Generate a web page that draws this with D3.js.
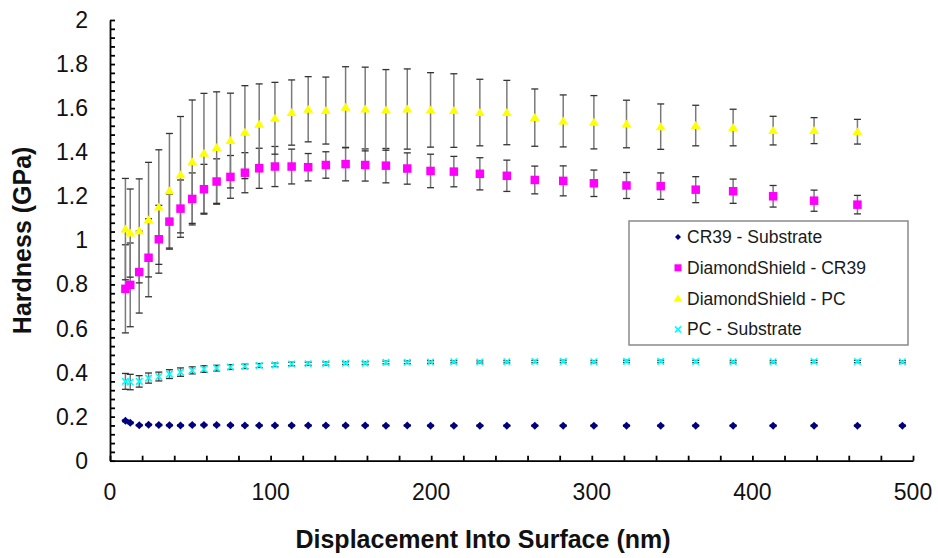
<!DOCTYPE html>
<html>
<head>
<meta charset="utf-8">
<script src="https://cdn.jsdelivr.net/npm/d3@7"></script>
<style>
  body { margin: 0; background: #fff; }
  text { font-family: Arial, "Liberation Sans", sans-serif; }
</style>
</head>
<body>
<svg id="chart" width="938" height="558"></svg>
<script>
// displacement (nm) of the coated samples
var dsDepth = [9.6, 12.6, 18.2, 24.0, 30.4, 37.0, 43.9, 51.2, 58.5, 66.4, 75.0, 84.0, 92.9, 102.7, 113.1,
  123.4, 134.4, 146.7, 158.9, 171.8, 185.1, 199.6, 214.1, 230.3, 247.1, 264.5, 282.2, 301.3, 321.6,
  342.9, 364.7, 388.0, 412.9, 438.4, 465.4];
// substrates have one more point at the end
var subDepth = dsDepth.concat([493.4]);

var cr39Sub = [0.181, 0.172, 0.161, 0.163, 0.162, 0.161, 0.160, 0.162, 0.162, 0.162, 0.161, 0.160, 0.160,
  0.160, 0.160, 0.160, 0.160, 0.160, 0.160, 0.159, 0.160, 0.159, 0.159, 0.159, 0.159, 0.159, 0.159,
  0.159, 0.159, 0.159, 0.159, 0.159, 0.159, 0.159, 0.159, 0.159];
var cr39SubErr = [0.004, 0.004, 0.003, 0.003, 0.003, 0.003, 0.003, 0.003, 0.003, 0.003, 0.003, 0.003, 0.003,
  0.003, 0.003, 0.003, 0.003, 0.003, 0.003, 0.003, 0.003, 0.003, 0.003, 0.003, 0.003, 0.003, 0.003,
  0.003, 0.003, 0.003, 0.003, 0.003, 0.003, 0.003, 0.003, 0.003];

var dsCr39 = [0.780, 0.798, 0.856, 0.921, 1.005, 1.085, 1.144, 1.188, 1.232, 1.267, 1.288, 1.307, 1.327,
  1.335, 1.335, 1.332, 1.342, 1.346, 1.342, 1.339, 1.326, 1.315, 1.312, 1.302, 1.293, 1.274, 1.270,
  1.259, 1.249, 1.246, 1.230, 1.223, 1.200, 1.180, 1.162];
var dsCr39Err = [0.200, 0.190, 0.186, 0.177, 0.154, 0.125, 0.130, 0.118, 0.113, 0.103, 0.097, 0.091, 0.091,
  0.091, 0.079, 0.062, 0.060, 0.076, 0.073, 0.078, 0.071, 0.076, 0.069, 0.073, 0.071, 0.063, 0.068,
  0.060, 0.059, 0.060, 0.059, 0.055, 0.049, 0.048, 0.042];

var dsPc = [1.051, 1.033, 1.043, 1.094, 1.151, 1.225, 1.298, 1.357, 1.395, 1.421, 1.453, 1.491, 1.527,
  1.554, 1.580, 1.595, 1.589, 1.604, 1.596, 1.592, 1.596, 1.592, 1.589, 1.580, 1.580, 1.557, 1.542,
  1.536, 1.528, 1.516, 1.521, 1.512, 1.498, 1.498, 1.493];
var dsPcErr = [0.230, 0.200, 0.236, 0.260, 0.260, 0.260, 0.264, 0.280, 0.272, 0.253, 0.215, 0.211, 0.183,
  0.163, 0.148, 0.148, 0.152, 0.184, 0.190, 0.183, 0.182, 0.169, 0.167, 0.151, 0.146, 0.130, 0.118,
  0.121, 0.108, 0.103, 0.092, 0.083, 0.065, 0.059, 0.056];

var pcSub = [0.360, 0.357, 0.360, 0.375, 0.382, 0.393, 0.402, 0.410, 0.416, 0.420, 0.425, 0.428, 0.432,
  0.435, 0.439, 0.440, 0.441, 0.443, 0.443, 0.446, 0.447, 0.448, 0.449, 0.448, 0.449, 0.450, 0.451,
  0.449, 0.451, 0.451, 0.450, 0.449, 0.449, 0.450, 0.450, 0.449];
var pcSubErr = [0.036, 0.035, 0.026, 0.023, 0.020, 0.020, 0.019, 0.016, 0.015, 0.013, 0.011, 0.010, 0.009,
  0.008, 0.008, 0.007, 0.007, 0.006, 0.006, 0.006, 0.006, 0.006, 0.005, 0.005, 0.005, 0.005, 0.005,
  0.005, 0.005, 0.005, 0.005, 0.005, 0.005, 0.005, 0.005, 0.005];

var seriesNames = ['CR39 - Substrate', 'DiamondShield - CR39', 'DiamondShield - PC', 'PC - Substrate'];
var yTicks = [0, 0.2, 0.4, 0.6, 0.8, 1, 1.2, 1.4, 1.6, 1.8, 2];
var xTicks = [0, 100, 200, 300, 400, 500];

var svg = d3.select('#chart');

var plotLeft = 110, plotRight = 913, plotTop = 20, plotBottom = 460.7;

var x = d3.scaleLinear().domain([0, 500]).range([plotLeft, plotRight]);
var y = d3.scaleLinear().domain([0, 2]).range([plotBottom, plotTop]);

function pack(depth, vals, errs) {
  return vals.map(function(v, i) { return { x: depth[i], y: v, e: errs[i] }; });
}

var series = [
  { name: seriesNames[0], data: pack(subDepth, cr39Sub, cr39SubErr), color: '#000080', shape: 'diamond' },
  { name: seriesNames[1], data: pack(dsDepth, dsCr39, dsCr39Err), color: '#ff00ff', shape: 'square' },
  { name: seriesNames[2], data: pack(dsDepth, dsPc, dsPcErr), color: '#ffff00', shape: 'triangle' },
  { name: seriesNames[3], data: pack(subDepth, pcSub, pcSubErr), color: '#00ffff', shape: 'cross' }
];

// axes (ticks point inward, minor ticks everywhere)
var yAxis = d3.axisRight(y)
  .tickValues(d3.range(0, 2.0001, 0.04))
  .tickSize(5)
  .tickSizeOuter(0)
  .tickFormat('');
var xAxis = d3.axisTop(x)
  .tickValues(d3.range(0, 500.1, 20))
  .tickSize(5)
  .tickSizeOuter(0)
  .tickFormat('');

svg.append('g')
  .attr('transform', 'translate(' + plotLeft + ',0)')
  .call(yAxis)
  .call(function(g) {
    g.selectAll('line, path').attr('stroke', '#000').attr('stroke-width', 1.8);
  });

svg.append('g')
  .attr('transform', 'translate(0,' + plotBottom + ')')
  .call(xAxis)
  .call(function(g) {
    g.selectAll('line, path').attr('stroke', '#000').attr('stroke-width', 1.8);
  });

// tick labels
svg.append('g').selectAll('text')
  .data(yTicks)
  .enter()
  .append('text')
  .attr('x', 88)
  .attr('y', function(d) { return y(d); })
  .attr('dy', '0.35em')
  .attr('text-anchor', 'end')
  .style('font-size', '23px')
  .attr('fill', '#111')
  .text(function(d) { return d; });

svg.append('g').selectAll('text')
  .data(xTicks)
  .enter()
  .append('text')
  .attr('x', function(d) { return x(d); })
  .attr('y', 500)
  .attr('text-anchor', 'middle')
  .style('font-size', '23px')
  .attr('fill', '#111')
  .text(function(d) { return d; });

// axis titles
svg.append('text')
  .attr('x', 483)
  .attr('y', 548)
  .attr('text-anchor', 'middle')
  .style('font-size', '25px')
  .style('font-weight', 'bold')
  .attr('fill', '#111')
  .text('Displacement Into Surface (nm)');

svg.append('text')
  .attr('transform', 'translate(31,' + ((plotTop + plotBottom) / 2) + ') rotate(-90)')
  .attr('text-anchor', 'middle')
  .style('font-size', '25px')
  .style('font-weight', 'bold')
  .attr('fill', '#111')
  .text('Hardness (GPa)');

// error bars first, markers on top
var capW = 3.5;
series.forEach(function(s) {
  var g = svg.append('g');
  var bars = g.selectAll('g').data(s.data).enter().append('g');
  bars.append('line')
    .attr('x1', function(d) { return x(d.x); })
    .attr('x2', function(d) { return x(d.x); })
    .attr('y1', function(d) { return y(d.y - d.e); })
    .attr('y2', function(d) { return y(d.y + d.e); })
    .attr('stroke', '#7a7a7a')
    .attr('stroke-width', 1.5);
  [-1, 1].forEach(function(sign) {
    bars.append('line')
      .attr('x1', function(d) { return x(d.x) - capW; })
      .attr('x2', function(d) { return x(d.x) + capW; })
      .attr('y1', function(d) { return y(d.y + sign * d.e); })
      .attr('y2', function(d) { return y(d.y + sign * d.e); })
      .attr('stroke', '#333')
      .attr('stroke-width', 1.3);
  });
});

function drawMarker(sel, shape, color, size) {
  var h = size / 2;
  if (shape === 'square') {
    sel.append('rect').attr('x', -h).attr('y', -h).attr('width', size).attr('height', size).attr('fill', color);
  } else if (shape === 'diamond') {
    sel.append('path').attr('d', 'M0,' + (-h) + 'L' + h + ',0L0,' + h + 'L' + (-h) + ',0Z').attr('fill', color);
  } else if (shape === 'triangle') {
    sel.append('path').attr('d', 'M0,' + (-h) + 'L' + (h + 0.5) + ',' + (h - 1) + 'L' + (-h - 0.5) + ',' + (h - 1) + 'Z').attr('fill', color);
  } else {
    sel.append('path').attr('d', 'M' + (-h) + ',' + (-h) + 'L' + h + ',' + h + 'M' + (-h) + ',' + h + 'L' + h + ',' + (-h))
      .attr('stroke', color).attr('stroke-width', 1.6).attr('fill', 'none');
  }
}

var markerSize = { diamond: 8, square: 8.5, triangle: 9, cross: 6.5 };

series.forEach(function(s) {
  svg.append('g').selectAll('g')
    .data(s.data)
    .enter()
    .append('g')
    .attr('transform', function(d) { return 'translate(' + x(d.x) + ',' + y(d.y) + ')'; })
    .each(function() { drawMarker(d3.select(this), s.shape, s.color, markerSize[s.shape]); });
});

// legend
var legend = svg.append('g');
legend.append('rect')
  .attr('x', 629)
  .attr('y', 221)
  .attr('width', 279)
  .attr('height', 124)
  .attr('fill', '#fff')
  .attr('stroke', '#8a8a8a')
  .attr('stroke-width', 1.5);

var items = legend.selectAll('.item')
  .data(series)
  .enter()
  .append('g')
  .attr('transform', function(d, i) { return 'translate(678,' + (237 + i * 30.8) + ')'; });

items.each(function(d) {
  var small = { diamond: 6, square: 7, triangle: 8, cross: 6 };
  drawMarker(d3.select(this), d.shape, d.color, small[d.shape]);
});

items.append('text')
  .attr('x', 9)
  .attr('y', 6)
  .style('font-size', '17.5px')
  .attr('fill', '#1a1a1a')
  .text(function(d) { return d.name; });
</script>
</body>
</html>
